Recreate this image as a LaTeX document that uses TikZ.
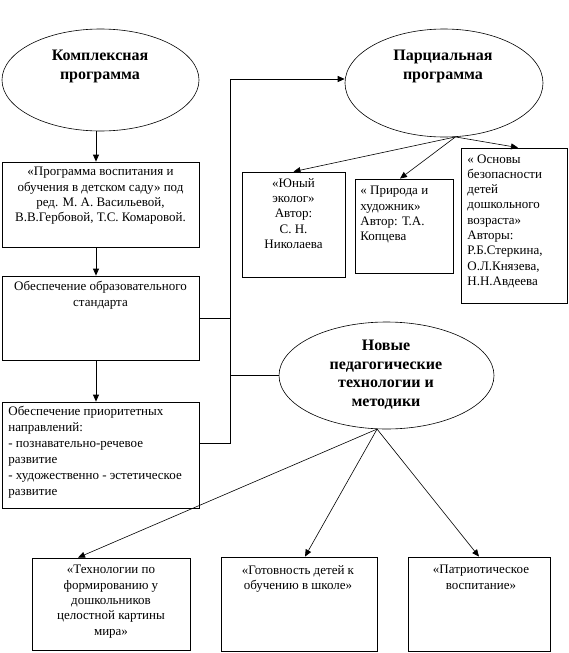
\documentclass[tikz,border=0pt]{standalone}
\usepackage{fontspec}
\setmainfont{Liberation Serif}
\usetikzlibrary{shapes.geometric,arrows.meta}
\begin{document}
\begin{tikzpicture}[x=1pt,y=-1pt,
  line width=0.8pt,
  oval/.style={draw, ellipse, inner sep=0pt, line width=0.6pt},
  rectbox/.style={draw, rectangle, inner sep=0pt, line width=0.8pt},
  txt/.style={inner sep=0pt, font=\fontsize{13}{15.3}\selectfont},
  btxt/.style={inner sep=0pt, align=center, font=\fontsize{16}{18.5}\selectfont\bfseries},
  arr/.style={-{Triangle[length=7pt,width=6pt]}},
  thin/.style={line width=0.6pt}]
\useasboundingbox (0,0) rectangle (569,653);
% ellipses
\node[oval, minimum width=197pt, minimum height=102pt] (kp) at (100.5,80) {};
\node[oval, minimum width=198pt, minimum height=108pt] (pp) at (444,83) {};
\node[oval, minimum width=215pt, minimum height=107pt] (ne) at (386.5,375.5) {};
\node[btxt, anchor=north] (kpt) at (100,50) {Комплексная\\программа};
\node[btxt, anchor=north] (ppt) at (443,50) {Парциальная\\программа};
\node[btxt, anchor=north] (net) at (386,340) {Новые\\педагогические\\технологии и\\методики};
% left column boxes
\node[rectbox, minimum width=197pt, minimum height=85pt] (b1) at (100.5,204.5) {};
\node[rectbox, minimum width=197pt, minimum height=84pt] (b2) at (100.5,318) {};
\node[rectbox, minimum width=197pt, minimum height=106pt] (b3) at (100.5,455) {};
\node[txt, align=center, anchor=north] (b1t) at (100.5,167) {«Программа воспитания и\\обучения в детском саду» под\\ред. М. А. Васильевой,\\В.В.Гербовой, Т.С. Комаровой.};
\node[txt, align=center, anchor=north] (b2t) at (100.5,281) {Обеспечение образовательного\\стандарта};
\node[txt, align=left, anchor=north west, font=\fontsize{13}{16}\selectfont] (b3t) at (8,406) {Обеспечение приоритетных\\направлений:\\- познавательно-речевое\\развитие\\- художественно - эстетическое\\развитие};
% partial boxes
\node[rectbox, minimum width=103pt, minimum height=105pt] (yu) at (293.5,224.5) {};
\node[rectbox, minimum width=98pt, minimum height=94pt] (pr) at (404,226) {};
\node[rectbox, minimum width=106pt, minimum height=155pt] (os) at (514,225.5) {};
\node[txt, align=center, anchor=north] (yut) at (293.5,178) {«Юный\\эколог»\\Автор:\\С. Н.\\Николаева};
\node[txt, align=left, anchor=north west] (prt) at (360,186) {« Природа и\\художник»\\Автор: Т.А.\\Копцева};
\node[txt, align=left, anchor=north west] (ost) at (467,154) {« Основы\\безопасности\\детей\\дошкольного\\возраста»\\Авторы:\\Р.Б.Стеркина,\\О.Л.Князева,\\Н.Н.Авдеева};
% bottom boxes
\node[rectbox, minimum width=158pt, minimum height=92pt] (ta) at (111,604) {};
\node[rectbox, minimum width=156pt, minimum height=94pt] (gt) at (299,604) {};
\node[rectbox, minimum width=142pt, minimum height=94pt] (pt) at (479,604) {};
\node[txt, align=center, anchor=north] (tat) at (111,565) {«Технологии по\\формированию у\\дошкольников\\целостной картины\\мира»};
\node[txt, align=center, anchor=north] (gtt) at (298,565) {«Готовность детей к\\обучению в школе»};
\node[txt, align=center, anchor=north] (ptt) at (481,565) {«Патриотическое\\воспитание»};
% connectors
\draw[arr] ([xshift=-4.5pt]kp.south) -- ([xshift=-4.5pt]b1.north);
\draw[arr] ([xshift=-4.5pt]b1.south) -- ([xshift=-4.5pt]b2.north);
\draw[arr] ([xshift=-4.5pt]b2.south) -- ([xshift=-4.5pt]b3.north);
\coordinate (jt) at (230.5,79);
\draw ([yshift=12pt]b3.east) -| (jt);
\draw (b2.east) -- (b2.east -| jt);
\draw[arr] (jt) -- (jt -| pp.west);
\draw (ne.west -| jt) -- (ne.west);
\draw[arr, thin] (pp.-78) -- (yu.north);
\draw[arr, thin] (pp.-78) -- ([xshift=-4pt]pr.north);
\draw[arr, thin] (pp.-78) -- ([xshift=4pt]os.north);
\draw[arr, thin] (ne.-100) -- ([xshift=-33pt]ta.north);
\draw[arr, thin] (ne.-100) -- ([xshift=6pt]gt.north);
\draw[arr, thin] (ne.-100) -- (pt.north);
\end{tikzpicture}
\end{document}
